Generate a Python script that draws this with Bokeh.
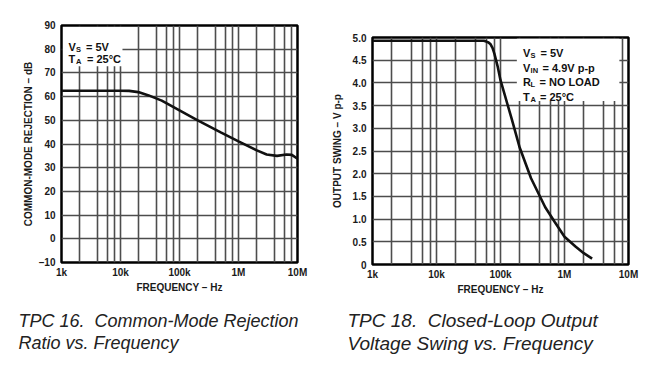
from bokeh.plotting import figure
from bokeh.layouts import row, column
from bokeh.models import FixedTicker, Label, BoxAnnotation, Range1d, Title, Spacer
from bokeh.embed import file_html
from bokeh.resources import INLINE

# ---------------- data ----------------
cmrr_freq = [1e3, 5e3, 1e4, 1.4e4, 2e4, 3e4, 5e4, 1e5, 2e5, 5e5, 1e6, 2e6, 3e6, 4.5e6, 6.5e6, 8e6, 1e7]
cmrr_db = [62.5, 62.5, 62.5, 62.4, 61.9, 60.5, 58.3, 54.2, 50.1, 44.9, 41.1, 37.4, 35.6, 35.0, 35.6, 35.4, 33.8]

swing_freq = [1e3, 1e4, 5e4, 5.5e4, 6e4, 6.5e4, 7e4, 7.5e4, 8e4, 9e4, 1e5, 1.5e5, 2e5, 3e5, 5e5, 7e5, 1e6, 1.5e6, 2e6, 2.7e6]
swing_v = [4.93, 4.93, 4.93, 4.93, 4.91, 4.89, 4.85, 4.77, 4.65, 4.37, 4.06, 3.2, 2.57, 1.9, 1.26, 0.94, 0.61, 0.39, 0.25, 0.13]

freq_ticks = [1000, 10000, 100000, 1000000, 10000000]
freq_labels = ["1k", "10k", "100k", "1M", "10M"]
freq_grid = [1e3, 2e3, 4e3, 6e3, 8e3,
             1e4, 2e4, 4e4, 6e4, 8e4,
             1e5, 2e5, 4e5, 6e5, 8e5,
             1e6, 2e6, 4e6, 6e6, 8e6, 1e7]
cmrr_ticks = [-10, 0, 10, 20, 30, 40, 50, 60, 70, 80, 90]
cmrr_labels = ["–10", "0", "10", "20", "30", "40", "50", "60", "70", "80", "90"]
swing_ticks = [0, 0.5, 1.0, 1.5, 2.0, 2.5, 3.0, 3.5, 4.0, 4.5, 5.0]
swing_labels = ["0", "0.5", "1.0", "1.5", "2.0", "2.5", "3.0", "3.5", "4.0", "4.5", "5.0"]

left_notes = [("V", "S", "= 5V"), ("T", "A", "= 25°C")]
right_notes = [("V", "S", "= 5V"), ("V", "IN", "= 4.9V p-p"), ("R", "L", "= NO LOAD"), ("T", "A", "= 25°C")]
caption_left = "TPC 16.\u00a0 Common-Mode Rejection\nRatio vs. Frequency"
caption_right = "TPC 18.\u00a0 Closed-Loop Output\nVoltage Swing vs. Frequency"

FONT = "Liberation Sans"
GRID = "#4d4d4d"


def style(p, yticks, ylabels, ylabel, ylabel_standoff):
    p.outline_line_color = "black"
    p.outline_line_width = 2.5
    p.background_fill_color = "white"
    p.border_fill_color = "white"
    for ax in (p.xaxis[0], p.yaxis[0]):
        ax.axis_line_color = None
        ax.major_tick_line_color = None
        ax.minor_tick_line_color = None
        ax.major_tick_out = 0
        ax.major_tick_in = 0
        ax.minor_tick_out = 0
        ax.minor_tick_in = 0
        ax.major_label_text_font = FONT
        ax.major_label_text_font_style = "bold"
        ax.major_label_text_font_size = "10px"
        ax.major_label_text_color = "#1a1a1a"
        ax.axis_label_text_font = FONT
        ax.axis_label_text_font_style = "bold"
        ax.axis_label_text_font_size = "10px"
        ax.axis_label_text_color = "#1a1a1a"
    p.xaxis.ticker = FixedTicker(ticks=freq_ticks, minor_ticks=[])
    p.xaxis.major_label_overrides = dict(zip(freq_ticks, freq_labels))
    p.xaxis.axis_label = "FREQUENCY – Hz"
    p.xaxis.major_label_standoff = 4
    p.xaxis.axis_label_standoff = 1
    p.yaxis.ticker = FixedTicker(ticks=yticks, minor_ticks=[])
    p.yaxis.major_label_overrides = dict(zip(yticks, ylabels))
    p.yaxis.axis_label = ylabel
    p.yaxis.major_label_standoff = 6
    p.yaxis.axis_label_standoff = ylabel_standoff
    p.xgrid.ticker = FixedTicker(ticks=freq_grid, minor_ticks=[])
    p.ygrid.ticker = FixedTicker(ticks=yticks, minor_ticks=[])
    for g in (p.xgrid[0], p.ygrid[0]):
        g.grid_line_color = GRID
        g.grid_line_width = 1.6
        g.grid_line_alpha = 1.0


def label(p, x, y, text, dx, dy, size, fstyle="bold", color="#111111"):
    p.add_layout(Label(x=x, y=y, x_offset=dx, y_offset=dy, text=text,
                       text_font=FONT, text_font_size=f"{size}px",
                       text_font_style=fstyle, text_color=color,
                       text_align="left", text_baseline="alphabetic"))


def notes(p, x, y, items, dx0, dy0, step, eq_dx):
    for i, (main, sub, rest) in enumerate(items):
        dy = dy0 - i * step
        label(p, x, y, main, dx0, dy, 11)
        label(p, x, y, sub, dx0 + 7.6, dy - 2.5, 7.5)
        label(p, x, y, rest, dx0 + eq_dx[i], dy, 11)


def caption(p, txt, offset, standoff, size):
    p.add_layout(Title(text=txt, align="left", offset=offset, standoff=standoff,
                       text_font=FONT, text_font_style="italic", text_line_height=1.1,
                       text_font_size=f"{size}px", text_color="#222222"), "below")


# ---------------- left chart ----------------
p1 = figure(width=328, height=386, x_axis_type="log", title=None,
            x_range=Range1d(1e3, 1e7), y_range=Range1d(-10, 90),
            output_backend="svg", toolbar_location=None,
            min_border_left=61, min_border_right=31, min_border_top=25, min_border_bottom=124)
style(p1, cmrr_ticks, cmrr_labels, "COMMON-MODE REJECTION – dB", 2)
p1.add_layout(BoxAnnotation(left=1.06e3, right=1.08e4, bottom=72.8, top=89.4,
                            fill_color="white", fill_alpha=1.0, line_color=None, level="underlay"))
p1.line(cmrr_freq, cmrr_db, line_color="#111111", line_width=2.6)
notes(p1, 1e3, 90, left_notes, 7, -21.5, 11.8, [17.5, 18.5])
caption(p1, caption_left, -43, 26, 18)

# ---------------- right chart ----------------
p2 = figure(width=332, height=374, x_axis_type="log", title=None,
            x_range=Range1d(1e3, 1e7), y_range=Range1d(0, 5),
            output_backend="svg", toolbar_location=None,
            min_border_left=44, min_border_right=32, min_border_top=25, min_border_bottom=122)
style(p2, swing_ticks, swing_labels, "OUTPUT SWING – V p-p", 7)
p2.add_layout(BoxAnnotation(left=1.8e5, right=7.2e6, bottom=3.6, top=4.972,
                            fill_color="white", fill_alpha=1.0, line_color=None, level="underlay"))
p2.line(swing_freq, swing_v, line_color="#111111", line_width=2.6)
notes(p2, 1e7, 5, right_notes, -105.5, -15.7, 14.5, [17.5, 19.5, 16.5, 17])
caption(p2, caption_right, -25, 22, 19)

layout = row(p1, column(Spacer(width=332, height=12), p2, spacing=0), spacing=0)
open("out.html", "w").write(file_html(layout, INLINE))
